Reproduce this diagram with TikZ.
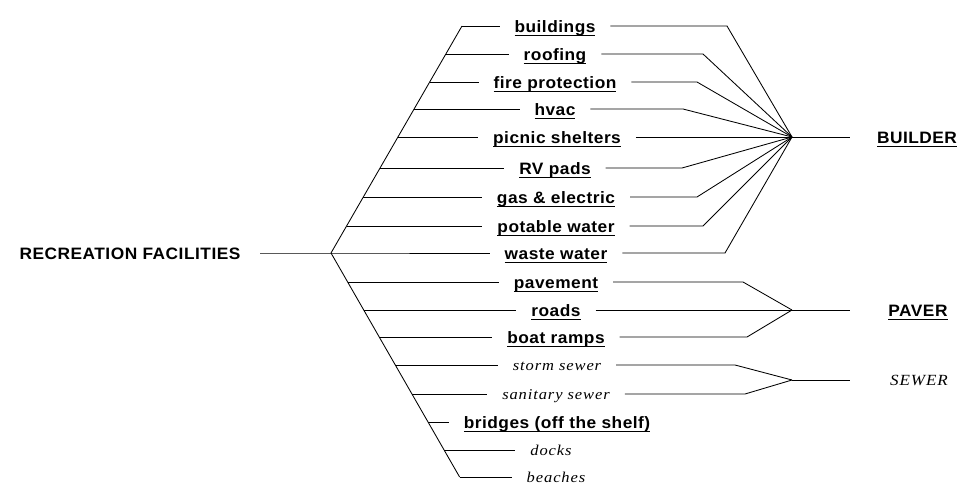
\documentclass[tikz,border=0pt]{standalone}
\usepackage{fontspec}
\setmainfont{Liberation Sans}
\newfontfamily\labsf[FakeStretch=1.05,LetterSpace=3]{Liberation Sans}
\newfontfamily\labit[FakeStretch=1.1,LetterSpace=6]{Liberation Serif}
\newcommand{\ulbox}[1]{\setbox0=\hbox{#1}\rlap{\rule[-3.5pt]{\wd0}{1.3pt}}\box0}
\begin{document}
\begin{tikzpicture}[x=1pt,y=-1pt,
  lab/.style={inner sep=0pt,outer xsep=15pt,outer ysep=0pt,text height=13.4pt,text depth=0pt,
    font=\labsf\bfseries\fontsize{16.5}{17}\selectfont},
  itl/.style={inner sep=0pt,outer xsep=15pt,outer ysep=0pt,text height=10.6pt,text depth=0pt,
    font=\labit\itshape\fontsize{15}{16}\selectfont},
  conn/.style={draw=black,line width=0.85pt}]
\useasboundingbox (0,0) rectangle (963,497);

% root
\node[lab,outer xsep=20pt] (rec) at (130,253) {RECREATION FACILITIES};

% labels
\node[lab] (n1)  at (555,26)  {\ulbox{buildings}};
\node[lab] (n2)  at (555,54)  {\ulbox{roofing}};
\node[lab] (n3)  at (555,82)  {\ulbox{fire protection}};
\node[lab] (n4)  at (555,109) {\ulbox{hvac}};
\node[lab] (n5)  at (557,137) {\ulbox{picnic shelters}};
\node[lab] (n6)  at (555,168) {\ulbox{RV pads}};
\node[lab] (n7)  at (556,197) {\ulbox{gas \& electric}};
\node[lab] (n8)  at (556,226) {\ulbox{potable water}};
\node[lab] (n9)  at (556,253) {\ulbox{waste water}};
\node[lab] (n10) at (556,282) {\ulbox{pavement}};
\node[lab] (n11) at (556,310) {\ulbox{roads}};
\node[lab] (n12) at (556,337) {\ulbox{boat ramps}};
\node[itl] (n13) at (557,365) {storm sewer};
\node[itl] (n14) at (556,394) {sanitary sewer};
\node[lab] (n15) at (557,422) {\ulbox{bridges (off the shelf)}};
\node[itl] (n16) at (551,450) {docks};
\node[itl] (n17) at (556,477) {beaches};

% trade labels
\node[lab] (builder) at (917,137) {\ulbox{BUILDER}};
\node[lab] (paver)   at (918,310) {\ulbox{PAVER}};
\node[itl,font=\labit\itshape\fontsize{15.5}{16}\selectfont] (sewer) at (919,380) {SEWER};

% coordinates
\coordinate (J) at (331,253);
\coordinate (d1) at (462,26);
\coordinate (d2) at (445.8,54);
\coordinate (d3) at (429.7,82);
\coordinate (d4) at (414,109);
\coordinate (d5) at (398,137);
\coordinate (d6) at (380,168);
\coordinate (d7) at (363,197);
\coordinate (d8) at (346.6,226);
\coordinate (d10) at (347.6,282);
\coordinate (d11) at (363.7,310);
\coordinate (d12) at (379,337);
\coordinate (d13) at (395,365);
\coordinate (d14) at (412,394);
\coordinate (d15) at (428,422);
\coordinate (d16) at (444,450);
\coordinate (d17) at (459.6,477);

\coordinate (k1) at (727,26);
\coordinate (k2) at (703,54);
\coordinate (k3) at (697,82);
\coordinate (k4) at (683,109);
\coordinate (k6) at (682,168);
\coordinate (k7) at (697,197);
\coordinate (k8) at (703,226);
\coordinate (k9) at (725,253);
\coordinate (k10) at (743,282);
\coordinate (k12) at (747,337);
\coordinate (k13) at (735,365);
\coordinate (k14) at (745,394);

\coordinate (hb) at (792,137);
\coordinate (hp) at (792,310);
\coordinate (hs) at (792,380);
\coordinate (ob) at (850,137);
\coordinate (op) at (850,310);
\coordinate (os) at (850,380);

% trunk and diagonals
\draw[conn] (rec.east) -- (J) -- (n9.west);
\draw[conn] (d1) -- (J) -- (d17);

% left branches
\foreach \i in {1,2,3,4,5,6,7,8,10,11,12,13,14,15,16,17}
  \draw[conn] (d\i) -- (n\i.west);

% right side: builder
\foreach \i in {1,2,3,4,6,7,8,9}
  \draw[conn] (n\i.east) -- (k\i) -- (hb);
\draw[conn] (n5.east) -- (hb);
\draw[conn] (hb) -- (ob);

% paver
\draw[conn] (n10.east) -- (k10) -- (hp);
\draw[conn] (n11.east) -- (hp);
\draw[conn] (n12.east) -- (k12) -- (hp);
\draw[conn] (hp) -- (op);

% sewer
\draw[conn] (n13.east) -- (k13) -- (hs);
\draw[conn] (n14.east) -- (k14) -- (hs);
\draw[conn] (hs) -- (os);
\end{tikzpicture}
\end{document}
